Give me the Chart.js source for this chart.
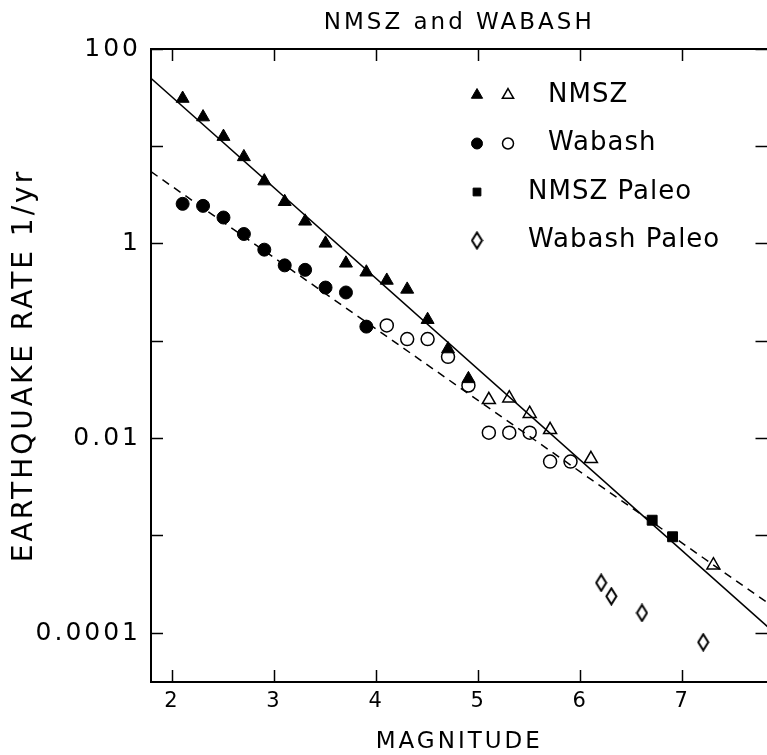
<!DOCTYPE html>
<html>
<head>
<meta charset="utf-8">
<title>NMSZ and WABASH</title>
<script src="https://cdn.jsdelivr.net/npm/chart.js@4.4.1/dist/chart.umd.min.js"></script>
<style>
  html, body { margin: 0; padding: 0; background: #fff; overflow: hidden; }
  #wrap { width: 767px; height: 755px; overflow: hidden; }
</style>
</head>
<body>
<!-- canvas a bit wider than the page: the right frame falls just outside, like the scan -->
<div id="wrap"><canvas id="myChart" width="777" height="755"></canvas></div>
<script>
// magnitudes and rates (1/yr)
var nmszMag = [2.1, 2.3, 2.5, 2.7, 2.9, 3.1, 3.3, 3.5, 3.7, 3.9, 4.1, 4.3, 4.5, 4.7, 4.9];
var nmszRate = [31, 20, 12.6, 7.8, 4.4, 2.7, 1.7, 1.01, 0.63, 0.51, 0.42, 0.34, 0.166, 0.083, 0.041];
var nmszOpenMag = [5.1, 5.3, 5.5, 5.7, 6.1, 7.3];
var nmszOpenRate = [0.025, 0.026, 0.018, 0.0123, 0.0062, 0.0005];

var wabashMag = [2.1, 2.3, 2.5, 2.7, 2.9, 3.1, 3.3, 3.5, 3.7, 3.9];
var wabashRate = [2.57, 2.45, 1.86, 1.26, 0.87, 0.6, 0.54, 0.355, 0.316, 0.141];
var wabashOpenMag = [4.1, 4.3, 4.5, 4.7, 4.9, 5.1, 5.3, 5.5, 5.7, 5.9];
var wabashOpenRate = [0.145, 0.105, 0.105, 0.069, 0.035, 0.0115, 0.0115, 0.0115, 0.0058, 0.0058];

var nmszPaleoMag = [6.7, 6.9];
var nmszPaleoRate = [0.00145, 0.00098];
var wabashPaleoMag = [6.2, 6.3, 6.6, 7.2];
var wabashPaleoRate = [0.00033, 0.00024, 0.000162, 0.000081];

// fitted lines, end points at the plot edges
var fitMag = [1.79, 7.83];
var nmszFit = [50, 0.000117];
var wabashFit = [5.5, 0.000206];

var magTicks = [2, 3, 4, 5, 6, 7];
var rateTicks = [0.0001, 0.001, 0.01, 0.1, 1, 10, 100];
var rateLabels = ['0.0001', '', '0.01', '', '1', '', '100'];
var legendLabels = ['NMSZ', 'Wabash', 'NMSZ Paleo', 'Wabash Paleo'];

function pts(xs, ys) {
  return xs.map(function (x, i) { return { x: x, y: ys[i] }; });
}

// tall open diamond for the Wabash paleo points
function makeDiamond(w, h) {
  var c = document.createElement('canvas');
  c.width = w; c.height = h;
  var g = c.getContext('2d');
  g.strokeStyle = '#000';
  g.lineWidth = 2;
  g.beginPath();
  g.moveTo(w / 2, 1.5); g.lineTo(w - 1.5, h / 2); g.lineTo(w / 2, h - 1.5); g.lineTo(1.5, h / 2);
  g.closePath();
  g.stroke();
  return c;
}
var diamond = makeDiamond(13, 19);

Chart.defaults.font.family = '"DejaVu Sans", sans-serif';
Chart.defaults.font.weight = 'normal';
Chart.defaults.color = '#000';

// plotter-like wide lettering
var spacingPlugin = {
  id: 'spacing',
  beforeUpdate: function (chart) { chart.ctx.letterSpacing = '3px'; },
  beforeDraw: function (chart) { chart.ctx.letterSpacing = '3px'; }
};

// legend sits inside the plot, two symbols on the first rows
var legendRows = [
  { label: legendLabels[0], sets: [0, 1], size: 6.5, gap: 71 },
  { label: legendLabels[1], sets: [2, 3], size: 5.5, gap: 71 },
  { label: legendLabels[2], sets: [4], size: 5.5, gap: 51 },
  { label: legendLabels[3], sets: [5], size: 6, gap: 51 }
];
var legendPlugin = {
  id: 'insideLegend',
  afterDatasetsDraw: function (chart) {
    var ctx = chart.ctx;
    var area = chart.chartArea;
    var x0 = area.left + 326;
    var y0 = area.top + 46;
    ctx.save();
    ctx.letterSpacing = '1px';
    ctx.font = '26px "DejaVu Sans", sans-serif';
    ctx.textBaseline = 'middle';
    ctx.textAlign = 'left';
    legendRows.forEach(function (row, i) {
      var y = y0 + i * 48.5;
      row.sets.forEach(function (k, j) {
        var ds = chart.data.datasets[k];
        ctx.fillStyle = ds.backgroundColor;
        ctx.strokeStyle = ds.borderColor;
        ctx.lineWidth = ds.borderWidth;
        Chart.helpers.drawPoint(ctx, {
          pointStyle: ds.pointStyle, radius: row.size, rotation: 0, borderWidth: ds.borderWidth
        }, x0 + j * 31, y);
      });
      ctx.fillStyle = '#000';
      ctx.fillText(row.label, x0 + row.gap, y);
    });
    ctx.restore();
  }
};

var datasets = [
  { label: 'NMSZ', data: pts(nmszMag, nmszRate), pointStyle: 'triangle', pointRadius: 7.5,
    backgroundColor: '#000', borderColor: '#000', borderWidth: 1 },
  { label: 'NMSZ', data: pts(nmszOpenMag, nmszOpenRate), pointStyle: 'triangle', pointRadius: 7.5,
    backgroundColor: 'rgba(0,0,0,0)', borderColor: '#000', borderWidth: 1.5 },
  { label: 'Wabash', data: pts(wabashMag, wabashRate), pointStyle: 'circle', pointRadius: 6.5,
    backgroundColor: '#000', borderColor: '#000', borderWidth: 1 },
  { label: 'Wabash', data: pts(wabashOpenMag, wabashOpenRate), pointStyle: 'circle', pointRadius: 6.5,
    backgroundColor: 'rgba(0,0,0,0)', borderColor: '#000', borderWidth: 1.5 },
  { label: 'NMSZ Paleo', data: pts(nmszPaleoMag, nmszPaleoRate), pointStyle: 'rect', pointRadius: 7,
    backgroundColor: '#000', borderColor: '#000', borderWidth: 1 },
  { label: 'Wabash Paleo', data: pts(wabashPaleoMag, wabashPaleoRate), pointStyle: diamond, pointRadius: 8,
    backgroundColor: 'rgba(0,0,0,0)', borderColor: '#000', borderWidth: 1.5 },
  { label: 'NMSZ fit', data: pts(fitMag, nmszFit), showLine: true, pointRadius: 0,
    borderColor: '#000', borderWidth: 1.5, backgroundColor: '#000' },
  { label: 'Wabash fit', data: pts(fitMag, wabashFit), showLine: true, pointRadius: 0,
    borderColor: '#000', borderWidth: 1.5, borderDash: [8, 6], backgroundColor: '#000' }
];

var inTicks = { drawOnChartArea: false, drawTicks: true, tickLength: -12, tickWidth: 1.5, tickColor: '#000' };
var axisBorder = { display: true, color: '#000', width: 2 };

// keep the plot box fixed: no extra room asked for the end labels
function fixX(h) {
  return function (scale) { scale.height = h; scale.paddingLeft = 0; scale.paddingRight = 0; };
}

var ctx = document.getElementById('myChart').getContext('2d');
var myChart = new Chart(ctx, {
  type: 'scatter',
  data: { datasets: datasets },
  plugins: [spacingPlugin, legendPlugin],
  options: {
    responsive: false,
    animation: false,
    events: [],
    layout: { padding: 0 },
    plugins: {
      legend: { display: false },
      tooltip: { enabled: false },
      title: {
        display: true,
        text: 'NMSZ and WABASH',
        fullSize: false,
        font: { size: 23, weight: 'normal' },
        padding: { top: 9, bottom: 12.4 }
      }
    },
    scales: {
      x: {
        type: 'linear',
        position: 'bottom',
        min: 1.79,
        max: 7.83,
        afterBuildTicks: function (scale) {
          scale.ticks = magTicks.map(function (v) { return { value: v }; });
        },
        afterFit: fixX(73),
        ticks: {
          font: { size: 21 },
          padding: 19,
          maxRotation: 0,
          autoSkip: false,
          callback: function (value) { return String(value); }
        },
        grid: inTicks,
        border: axisBorder,
        title: {
          display: true,
          text: 'MAGNITUDE',
          font: { size: 23, lineHeight: 1 },
          padding: { top: 0, bottom: 1 }
        }
      },
      y: {
        type: 'logarithmic',
        position: 'left',
        min: Math.pow(10, -4.5),
        max: 100,
        afterBuildTicks: function (scale) {
          scale.ticks = rateTicks.map(function (v) { return { value: v }; });
        },
        afterFit: function (scale) { scale.width = 151; },
        ticks: {
          font: { size: 25 },
          padding: 22,
          autoSkip: false,
          callback: function (value) { return rateLabels[rateTicks.indexOf(value)]; }
        },
        grid: inTicks,
        border: axisBorder,
        title: {
          display: true,
          text: 'EARTHQUAKE RATE 1/yr',
          font: { size: 28, lineHeight: 1 },
          padding: { top: 11, bottom: 0 }
        }
      },
      xTop: {
        type: 'linear',
        position: 'top',
        min: 1.79,
        max: 7.83,
        afterBuildTicks: function (scale) {
          scale.ticks = magTicks.map(function (v) { return { value: v }; });
        },
        afterFit: fixX(0),
        ticks: { display: false },
        grid: inTicks,
        border: axisBorder
      },
      yRight: {
        type: 'logarithmic',
        position: 'right',
        min: Math.pow(10, -4.5),
        max: 100,
        afterBuildTicks: function (scale) {
          scale.ticks = rateTicks.map(function (v) { return { value: v }; });
        },
        afterFit: function (scale) { scale.width = 0; },
        ticks: { display: false },
        grid: inTicks,
        border: { display: false }
      }
    }
  }
});
</script>
</body>
</html>
